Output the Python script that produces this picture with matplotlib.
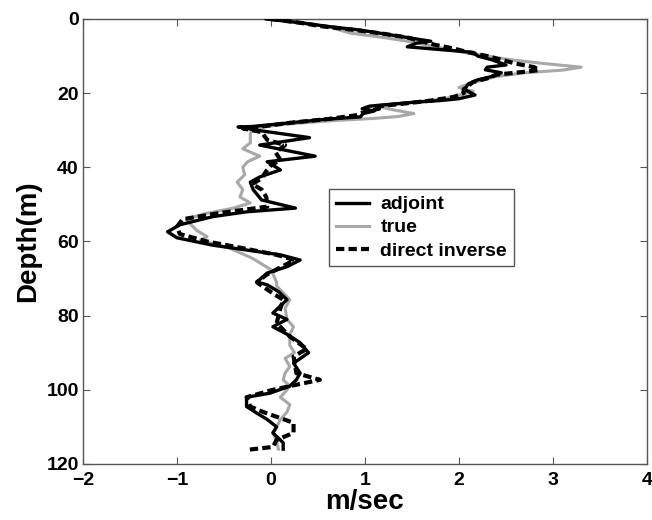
import matplotlib
matplotlib.use("Agg")
import matplotlib.pyplot as plt

plt.rcParams['font.family'] = ['Liberation Sans', 'DejaVu Sans']
plt.rcParams['font.weight'] = 'bold'

# ---- data (value in m/sec, depth in m) ----
adjoint_depth = [0, 1, 2, 3, 4, 5, 6, 6.5, 7.5, 9, 10, 11, 12.4, 13, 13.7, 14.5, 15.5, 16.4,
                 17.5, 19, 20.5, 21.5, 22, 22.5, 23, 23.5, 24.2, 24.8, 25.5, 26.4, 27, 28, 29,
                 29.1, 30, 32, 34, 37, 38.5, 40.7, 42.6, 44, 46, 48.8, 51, 52, 53.3, 55.5, 57.4,
                 59, 61, 62.3, 63.6, 65, 66.8, 68.5, 70.9, 71.7, 73.5, 75.7, 79.3, 81, 83, 85,
                 87.3, 90, 92.8, 95.5, 97.3, 99, 100.9, 102, 104.5, 106.3, 108, 110, 111.6,
                 114.3, 116]
adjoint_val = [-0.05, 0.3, 0.6, 0.95, 1.2, 1.45, 1.7, 1.55, 1.45, 2.15, 2.2, 2.35, 2.5, 2.3,
               2.28, 2.45, 2.35, 2.2, 2.1, 2.06, 2.17, 2.0, 1.8, 1.5, 1.27, 1.05, 0.97, 1.1, 0.98,
               0.95, 0.6, 0.2, -0.2, -0.35, -0.15, 0.41, -0.12, 0.47, -0.04, 0.1, -0.12, -0.22,
               -0.19, -0.1, 0.26, -0.26, -0.62, -0.97, -1.1, -1.0, -0.62, -0.26, 0.1, 0.31, 0.17,
               -0.04, -0.15, -0.04, 0.08, 0.17, 0.02, 0.17, 0.02, 0.17, 0.31, 0.4, 0.24, 0.31,
               0.27, 0.2, -0.01, -0.26, -0.26, -0.15, -0.04, 0.06, 0.02, 0.13, 0.13]

true_depth = [0, 1, 2, 3.8, 5, 6, 7, 8, 9, 10, 11, 12, 13, 13.8, 14.5, 15.5, 16.5, 17.5, 18.5,
              19.5, 20.5, 21.5, 22.5, 23.2, 23.7, 24.5, 25.5, 26.3, 26.8, 27.5, 28.5, 29.5, 31,
              33.4, 35, 37, 38.5, 40, 42, 44, 46, 48, 49.6, 51, 52.5, 54, 55.5, 57, 58.7, 59.6,
              61.8, 64.5, 67.6, 71, 72, 75.7, 78, 81, 83, 85, 88, 90, 91.5, 93.7, 95.5, 97.3,
              99, 100, 102, 104, 106, 108, 110, 111.6, 114, 116]
true_val = [0.0, 0.35, 0.6, 0.84, 1.2, 1.45, 1.65, 1.85, 2.05, 2.3, 2.55, 2.9, 3.3, 3.1, 2.7,
            2.4, 2.25, 2.1, 2.0, 2.15, 2.0, 1.85, 1.5, 1.25, 1.16, 1.3, 1.52, 1.35, 1.1, 0.6,
            0.1, -0.2, -0.22, -0.22, -0.3, -0.12, -0.25, -0.3, -0.28, -0.36, -0.3, -0.33, -0.22,
            -0.4, -0.7, -0.9, -0.85, -0.79, -0.68, -0.75, -0.44, -0.2, 0.0, 0.06, 0.06, 0.2,
            0.15, 0.17, 0.24, 0.2, 0.2, 0.25, 0.15, 0.2, 0.15, 0.13, 0.2, 0.17, 0.1, 0.2, 0.17,
            0.1, 0.06, 0.02, 0.06, 0.08]

direct_depth = [0, 1, 2, 3, 4, 5, 6, 7, 8, 9, 10, 11, 12, 13, 13.8, 14.5, 15, 16, 17, 18, 19,
                20, 21, 22, 23, 23.6, 24.2, 25, 26, 27, 28, 29, 29.5, 30.5, 32.6, 34, 36, 38,
                39.5, 41, 43, 44.5, 46, 48, 50.6, 52.3, 54, 56, 58, 60, 61.8, 63.6, 65, 67, 69,
                71, 74, 75.7, 78, 82, 85.6, 89, 91, 95.5, 97.3, 99, 100, 102, 104.5, 106, 108.9,
                111.6, 113.5, 115.4, 116.2]
direct_val = [0.0, 0.3, 0.55, 0.9, 1.2, 1.45, 1.6, 1.75, 1.95, 2.1, 2.3, 2.45, 2.6, 2.8, 2.85,
              2.6, 2.4, 2.3, 2.15, 2.1, 2.05, 2.05, 1.95, 1.7, 1.35, 1.1, 1.15, 1.0, 0.9, 0.6,
              0.2, -0.1, -0.3, -0.1, -0.04, 0.15, 0.05, 0.1, 0.0, -0.05, -0.1, -0.2, -0.1, -0.05,
              -0.04, -0.54, -0.94, -1.0, -0.97, -0.68, -0.3, 0.06, 0.25, 0.1, -0.05, -0.15, 0.02,
              0.13, 0.1, 0.06, 0.2, 0.38, 0.24, 0.27, 0.52, 0.2, 0.02, -0.26, -0.22, -0.08,
              0.24, 0.24, 0.06, 0.02, -0.26]

x_ticks = [-2, -1, 0, 1, 2, 3, 4]
y_ticks = [0, 20, 40, 60, 80, 100, 120]

fig = plt.figure(figsize=(6.52, 5.2), dpi=100)
ax = fig.add_axes([0.1273, 0.1077, 0.865, 0.8558])

ax.plot(true_val, true_depth, color='#a8a8a8', lw=2.2, label='true', zorder=2)
ax.plot(adjoint_val, adjoint_depth, color='black', lw=2.4, label='adjoint', zorder=3)
ax.plot(direct_val, direct_depth, color='black', lw=3.0, linestyle=(0, (2, 1)),
        dash_capstyle='butt', label='direct inverse', zorder=4)

ax.set_xlim(-2, 4)
ax.set_ylim(120, 0)
ax.set_xticks(x_ticks)
ax.set_yticks(y_ticks)
ax.set_xticklabels(['\u22122', '\u22121', '0', '1', '2', '3', '4'])
ax.tick_params(direction='in', length=5, width=0.8, color='#555555', labelsize=14,
               top=True, right=True)
ax.tick_params(axis='x', pad=6)
ax.tick_params(axis='y', pad=3)
for lab in ax.get_xticklabels() + ax.get_yticklabels():
    lab.set_fontweight('bold')
for s in ax.spines.values():
    s.set_color('#555555')
    s.set_linewidth(1.0)

ax.set_xlabel('m/sec', fontsize=20, fontweight='bold', labelpad=0)
ax.set_ylabel('Depth(m)', fontsize=20, fontweight='bold', labelpad=4)

handles, labels = ax.get_legend_handles_labels()
order = [1, 0, 2]
leg = ax.legend([handles[i] for i in order], [labels[i] for i in order],
                loc='upper left', bbox_to_anchor=(0.436, 0.618),
                prop={'size': 14, 'weight': 'bold'}, frameon=True, fancybox=False,
                framealpha=1, edgecolor='#555555', handlelength=1.7, handletextpad=0.6,
                labelspacing=0.28, borderpad=0.35, borderaxespad=0)
leg.get_frame().set_linewidth(1.0)

fig.savefig('out.png', dpi=100)
